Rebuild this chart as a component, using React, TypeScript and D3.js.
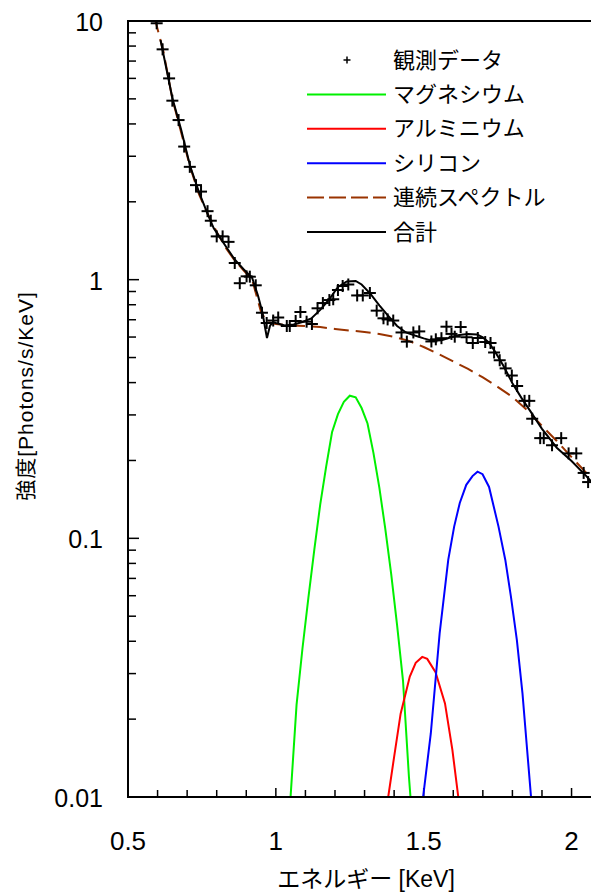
import React from 'react';
import * as d3 from 'd3';

// observed counts (+ markers)
const obsEnergy = [
  0.597, 0.617, 0.639, 0.650, 0.671, 0.690, 0.709, 0.730, 0.747, 0.769,
  0.780, 0.800, 0.820, 0.840, 0.861, 0.878, 0.901, 0.912, 0.932, 0.953,
  0.969, 0.991, 1.008, 1.037, 1.047, 1.067, 1.083, 1.104, 1.122, 1.141,
  1.159, 1.181, 1.194, 1.210, 1.226, 1.245, 1.275, 1.294, 1.318, 1.341,
  1.364, 1.378, 1.397, 1.425, 1.443, 1.465, 1.485, 1.526, 1.541, 1.560,
  1.577, 1.594, 1.605, 1.625, 1.645, 1.666, 1.683, 1.708, 1.726, 1.738,
  1.757, 1.777, 1.798, 1.816, 1.841, 1.857, 1.867, 1.894, 1.906, 1.934,
  1.965, 1.990, 2.016, 2.041, 2.056,
];
const obsRate = [
  9.80, 7.77, 6.00, 4.92, 4.14, 3.27, 2.73, 2.32, 2.19, 1.84,
  1.69, 1.47, 1.47, 1.40, 1.16, 0.969, 1.03, 1.027, 0.951, 0.745,
  0.680, 0.695, 0.714, 0.662, 0.662, 0.692, 0.750, 0.688, 0.674, 0.775,
  0.812, 0.834, 0.840, 0.912, 0.945, 0.958, 0.869, 0.869, 0.888, 0.759,
  0.709, 0.702, 0.695, 0.625, 0.576, 0.625, 0.631, 0.577, 0.588, 0.594,
  0.658, 0.617, 0.602, 0.656, 0.599, 0.569, 0.595, 0.574, 0.569, 0.523,
  0.488, 0.454, 0.426, 0.388, 0.340, 0.340, 0.290, 0.244, 0.244, 0.229,
  0.244, 0.213, 0.213, 0.179, 0.165,
];

// continuum (dashed)
const contEnergy = [
  0.59, 0.62, 0.65, 0.68, 0.71, 0.74, 0.77, 0.80, 0.83, 0.86, 0.89, 0.92,
  0.95, 0.97, 1.00, 1.05, 1.10, 1.15, 1.20, 1.25, 1.30, 1.35, 1.40, 1.45,
  1.50, 1.55, 1.60, 1.65, 1.70, 1.75, 1.80, 1.85, 1.90, 1.95, 2.00, 2.05, 2.10,
];
const contRate = [
  10.3, 7.6, 5.0, 3.7, 2.73, 2.14, 1.79, 1.53, 1.33, 1.19, 1.09, 0.997,
  0.750, 0.686, 0.674, 0.665, 0.662, 0.656, 0.645, 0.636, 0.628, 0.617, 0.601, 0.580,
  0.549, 0.516, 0.483, 0.452, 0.419, 0.385, 0.352, 0.313, 0.272, 0.238, 0.206, 0.179, 0.155,
];

// total model (solid black)
const totalEnergy = [
  0.61, 0.65, 0.68, 0.71, 0.74, 0.77, 0.79, 0.80, 0.83, 0.86, 0.89, 0.92,
  0.94, 0.955, 0.965, 0.97, 0.98, 0.99, 1.00, 1.03, 1.06, 1.09, 1.12, 1.15,
  1.18, 1.21, 1.24, 1.27, 1.29, 1.32, 1.35, 1.38, 1.41, 1.44, 1.47, 1.50,
  1.53, 1.56, 1.59, 1.62, 1.65, 1.68, 1.70, 1.72, 1.74, 1.77, 1.80, 1.83,
  1.86, 1.90, 1.95, 2.00, 2.05, 2.10,
];
const totalRate = [
  8.44, 5.04, 3.79, 2.75, 2.18, 1.79, 1.58, 1.52, 1.35, 1.20, 1.10, 1.015,
  0.865, 0.744, 0.639, 0.595, 0.662, 0.686, 0.680, 0.665, 0.671, 0.686, 0.708, 0.764,
  0.838, 0.937, 0.984, 0.989, 0.958, 0.881, 0.795, 0.724, 0.662, 0.625, 0.608, 0.593,
  0.580, 0.583, 0.598, 0.611, 0.617, 0.614, 0.598, 0.572, 0.530, 0.464, 0.398, 0.350,
  0.311, 0.265, 0.224, 0.199, 0.174, 0.150,
];

// magnesium line
const mgEnergy = [
  1.03, 1.05, 1.07, 1.09, 1.11, 1.13, 1.15, 1.17, 1.19, 1.21, 1.23, 1.25,
  1.27, 1.29, 1.31, 1.33, 1.35, 1.37, 1.39, 1.41, 1.43, 1.45, 1.47,
];
const mgRate = [
  0.0045, 0.0101, 0.0227, 0.0375, 0.0588, 0.0902, 0.135, 0.189, 0.257, 0.302, 0.337, 0.356,
  0.351, 0.319, 0.278, 0.214, 0.157, 0.109, 0.0728, 0.0462, 0.0282, 0.0120, 0.006,
];

// aluminium line
const alEnergy = [1.36, 1.38, 1.40, 1.422, 1.453, 1.473, 1.495, 1.512, 1.540, 1.572, 1.597, 1.617, 1.635];
const alRate = [0.0065, 0.0100, 0.0143, 0.0210, 0.0292, 0.0330, 0.0348, 0.0342, 0.0304, 0.0230, 0.0152, 0.0100, 0.0065];

// silicon line
const siEnergy = [
  1.48, 1.498, 1.524, 1.554, 1.583, 1.603, 1.622, 1.644, 1.665, 1.682, 1.699,
  1.721, 1.753, 1.776, 1.795, 1.815, 1.834, 1.848, 1.863, 1.88,
];
const siRate = [
  0.0055, 0.0100, 0.0176, 0.0430, 0.0825, 0.111, 0.137, 0.161, 0.174, 0.181, 0.177,
  0.158, 0.111, 0.0825, 0.0595, 0.0405, 0.0252, 0.0161, 0.0100, 0.0055,
];

const xTickLabels = [0.5, 1, 1.5, 2];
const yTickLabels = [10, 1, 0.1, 0.01];

const legendNames = ['観測データ', 'マグネシウム', 'アルミニウム', 'シリコン', '連続スペクトル', '合計'];
const legendColors = ['#000', '#00f000', '#ff0000', '#0000ff', '#993300', '#000'];

const FONT = "'Liberation Sans', 'Noto Sans CJK JP', sans-serif";

export default function App() {
  const W = 591;
  const H = 892;
  const left = 128;
  const top = 21;
  const bottom = 797;

  const x = d3.scaleLinear().domain([0.5, 2.1]).range([left, left + 1.6 * 295.7]);
  const y = d3.scaleLog().domain([0.01, 10]).range([bottom, top]);

  const line = d3.line<[number, number]>()
    .x(d => x(d[0]))
    .y(d => y(d[1]));

  const zip = (a: number[], b: number[]) => a.map((v, i) => [v, b[i]] as [number, number]);

  const minorY: number[] = [];
  for (let e = -2; e < 1; e++) {
    for (let m = 2; m <= 9; m++) minorY.push(m * Math.pow(10, e));
  }
  const xTicks = d3.range(6, 21).map(i => i / 10);

  return (
    <svg width={W} height={H} style={{ position: 'absolute', left: 0, top: 0 }} fontFamily={FONT}>
      <defs>
        <clipPath id="plot">
          <rect x={left} y={top} width={W - left} height={bottom - top} />
        </clipPath>
      </defs>
      <rect width={W} height={H} fill="#fff" />

      {/* ticks */}
      {minorY.map(v => (
        <line key={'my' + v} x1={left} x2={left + 8} y1={y(v)} y2={y(v)} stroke="#000" strokeWidth={1.5} />
      ))}
      {[1, 0.1].map(v => (
        <line key={'My' + v} x1={left} x2={left + 11} y1={y(v)} y2={y(v)} stroke="#000" strokeWidth={1.5} />
      ))}
      {xTicks.map(v => (
        <line key={'xt' + v} x1={x(v)} x2={x(v)} y1={bottom} y2={bottom - (Math.abs(v * 2 - Math.round(v * 2)) < 1e-6 ? 9 : 7)} stroke="#000" strokeWidth={1.5} />
      ))}

      {/* curves */}
      <g clipPath="url(#plot)" fill="none" strokeWidth={2}>
        <path d={line(zip(mgEnergy, mgRate)) || ''} stroke={legendColors[1]} />
        <path d={line(zip(alEnergy, alRate)) || ''} stroke={legendColors[2]} />
        <path d={line(zip(siEnergy, siRate)) || ''} stroke={legendColors[3]} />
        <path d={line(zip(contEnergy, contRate)) || ''} stroke={legendColors[4]} strokeDasharray="15,7" />
        <path d={line(zip(totalEnergy, totalRate)) || ''} stroke={legendColors[5]} />
        {obsEnergy.map((e, i) => (
          <g key={'o' + i} transform={`translate(${x(e)},${y(obsRate[i])})`} stroke="#000" strokeWidth={2}>
            <line x1={-6} x2={6} y1={0} y2={0} />
            <line x1={0} x2={0} y1={-6} y2={6} />
          </g>
        ))}
      </g>

      {/* frame */}
      <path d={`M${W},${top}H${left}V${bottom}H${W}`} fill="none" stroke="#000" strokeWidth={2} />

      {/* tick labels */}
      {yTickLabels.map(v => (
        <text key={'yl' + v} x={103} y={y(v) + 1} textAnchor="end" dominantBaseline="central" fontSize={25}>{String(v)}</text>
      ))}
      {xTickLabels.map(v => (
        <text key={'xl' + v} x={x(v)} y={850} textAnchor="middle" fontSize={26}>{String(v)}</text>
      ))}

      {/* axis titles */}
      <text x={366} y={887} textAnchor="middle" fontSize={23}>エネルギー [KeV]</text>
      <text transform="translate(33,396) rotate(-90)" textAnchor="middle" fontSize={21} letterSpacing={1}>強度[Photons/s/KeV]</text>

      {/* legend */}
      {legendNames.map((name, i) => {
        const ly = 60 + i * 34.4;
        return (
          <g key={'lg' + i}>
            {i === 0 ? (
              <g stroke="#000" strokeWidth={1.5}>
                <line x1={343.5} x2={350.5} y1={ly} y2={ly} />
                <line x1={347} x2={347} y1={ly - 3.5} y2={ly + 3.5} />
              </g>
            ) : (
              <line x1={307} x2={386} y1={ly} y2={ly} stroke={legendColors[i]} strokeWidth={2}
                strokeDasharray={i === 4 ? '17,5' : undefined} />
            )}
            <text x={393} y={ly} dominantBaseline="central" fontSize={22}>{name}</text>
          </g>
        );
      })}
    </svg>
  );
}
